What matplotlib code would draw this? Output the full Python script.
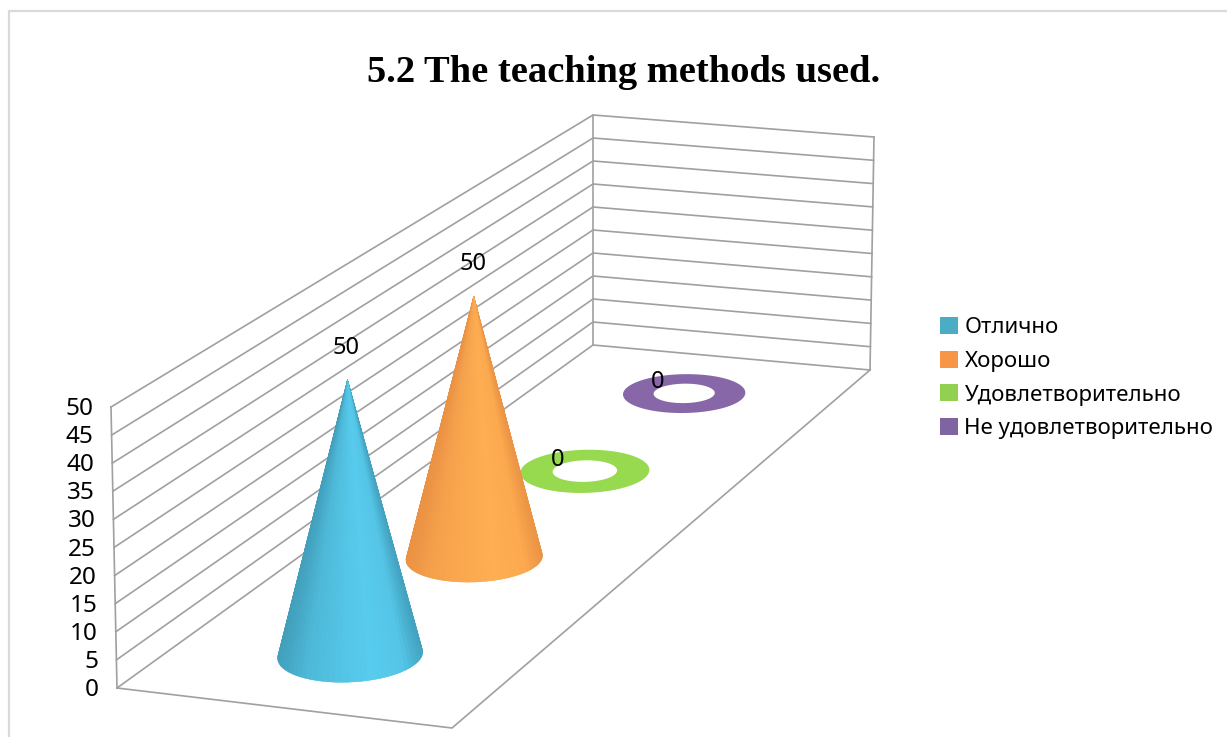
import numpy as np
import matplotlib
matplotlib.use('Agg')
import matplotlib.pyplot as plt
from matplotlib.patches import Polygon, Patch, PathPatch
from matplotlib.path import Path
from matplotlib.colors import to_rgb

# --- data ---
TITLE = '5.2 The teaching methods used.'
CATEGORIES = ['Отлично', 'Хорошо', 'Удовлетворительно', 'Не удовлетворительно']
VALUES = [50, 50, 0, 0]
Y_TICKS = [0, 5, 10, 15, 20, 25, 30, 35, 40, 45, 50]
LEGEND_COLORS = ['#4BACC6', '#F79646', '#92D050', '#8064A2']

# --- look of the fake 3d box (pixels of the 1227x737 picture) ---
Z_MAX = 50
FLOOR = [(117, 688), (593, 345), (870, 370), (452, 728)]   # front-left, back-left, back-right, front-right
TOP = [(111, 407), (593, 115), (874, 137), (451, 445)]
GRID = '#A0A0A0'
DARK = ['#3F9AB6', '#E88E42']
LIGHT = ['#58CCEE', '#FFAE52']
FLAT = ['#58CCEE', '#FFAE52', '#97D94F', '#8767A8']
R_DEPTH = 0.062
R_WIDTH = 0.205
SKEW = 0.004


def homography(pts):
    # unit square (u = depth, v = width) -> pixels
    src = [(0, 0), (1, 0), (1, 1), (0, 1)]
    A, b = [], []
    for (u, v), (x, y) in zip(src, pts):
        A.append([u, v, 1, 0, 0, 0, -u * x, -v * x])
        A.append([0, 0, 0, u, v, 1, -u * y, -v * y])
        b += [x, y]
    return np.append(np.linalg.solve(np.array(A, float), np.array(b, float)), 1).reshape(3, 3)


H_FLOOR = homography(FLOOR)
H_TOP = homography(TOP)


def project(u, v, z=0):
    u, v = np.asarray(u, float), np.asarray(v, float)
    p = np.stack([u, v, np.ones_like(u)])
    f = H_FLOOR @ p
    t = H_TOP @ p
    f = f[:2] / f[2]
    t = t[:2] / t[2]
    return f + (t - f) * z / Z_MAX


def ring(uc, factor=1.0, n=180):
    th = np.linspace(0, 2 * np.pi, n + 1)
    u = uc + factor * (R_DEPTH * np.sin(th) - SKEW * np.cos(th))
    v = 0.5 + factor * R_WIDTH * np.cos(th)
    x, y = project(u, v)
    return np.column_stack([x, y])


def draw_cone(ax, uc, value, dark, light):
    base = ring(uc, n=72)
    apex = project(uc, 0.5, value)
    cx = (base[:, 0].min() + base[:, 0].max()) / 2
    rx = (base[:, 0].max() - base[:, 0].min()) / 2
    z = 4 + (1 - uc)
    ax.add_patch(Polygon(base, fc=light, ec='none', zorder=z))
    facets = sorted(range(len(base) - 1), key=lambda i: base[i, 1] + base[i + 1, 1])
    d, l = np.array(to_rgb(dark)), np.array(to_rgb(light))
    for i in facets:
        s = ((base[i, 0] + base[i + 1, 0]) / 2 - cx) / rx
        k = np.interp(s, [-1, -0.6, -0.1, 0.3, 0.75, 1], [0.1, 0.6, 0.85, 1, 0.85, 0.15])
        col = d + (l - d) * k
        ax.add_patch(Polygon([apex, base[i], base[i + 1]], fc=col, ec=col, lw=0.3, zorder=z))
    return apex


def draw_donut(ax, uc, color):
    outer = ring(uc)
    inner = ring(uc, factor=0.5)[::-1]
    verts = np.vstack([outer, inner])
    codes = [Path.MOVETO] + [Path.LINETO] * (len(outer) - 1) + [Path.MOVETO] + [Path.LINETO] * (len(inner) - 1)
    ax.add_patch(PathPatch(Path(verts, codes), fc=color, ec='none', zorder=3))


fig = plt.figure(figsize=(12.27, 7.37), dpi=100)
ax = fig.add_axes([0, 0, 1, 1])
ax.set_xlim(0, 1227)
ax.set_ylim(737, 0)
ax.axis('off')

# chart area border
ax.plot([1227, 9, 9], [11, 11, 737], color='#D9D9D9', lw=1.6, zorder=1)

ax.text(624, 72, TITLE, family='Liberation Serif', fontweight='bold', fontsize=27.7,
        ha='center', va='center', color='black')

# walls and floor
for z in Y_TICKS:
    pts = [project(0, 0, z), project(1, 0, z), project(1, 1, z)]
    ax.plot([p[0] for p in pts], [p[1] for p in pts], color=GRID, lw=1.2, zorder=2)
    p0 = project(0, 0, z)
    ax.text(p0[0] - 18, p0[1] + 2, str(z), family='Noto Sans', fontsize=17.5, ha='right', va='center', color='black')
for u, v in [(0, 0), (1, 0), (1, 1)]:
    a, b = project(u, v, 0), project(u, v, Z_MAX)
    ax.plot([a[0], b[0]], [a[1], b[1]], color=GRID, lw=1.2, zorder=2)
edge = [project(1, 1, 0), project(0, 1, 0), project(0, 0, 0)]
ax.plot([p[0] for p in edge], [p[1] for p in edge], color=GRID, lw=1.2, zorder=2)

# back to front
for i in reversed(range(len(VALUES))):
    uc = (i + 0.5) / len(VALUES)
    if VALUES[i] > 0:
        apex = draw_cone(ax, uc, VALUES[i], DARK[i], LIGHT[i])
        ax.text(apex[0] - 1, apex[1] - 32, str(VALUES[i]), family='Noto Sans', fontsize=17,
                ha='center', va='center', color='black', zorder=10)
    else:
        draw_donut(ax, uc, FLAT[i])
        c = project(uc, 0.5, 0)
        ax.text(c[0] - 27, c[1] - 11, str(VALUES[i]), family='Noto Sans', fontsize=17,
                ha='center', va='center', color='black', zorder=10)

handles = [Patch(fc=c, ec='none', label=n) for c, n in zip(LEGEND_COLORS, CATEGORIES)]
leg = ax.legend(handles=handles, loc='upper left', bbox_to_anchor=(940 / 1227, 1 - 317 / 737),
                frameon=False, prop={'family': 'Noto Sans', 'size': 16}, handlelength=0.8, handleheight=0.8,
                handletextpad=0.3, labelspacing=0.56, borderaxespad=0, borderpad=0)

fig.savefig('out.png', dpi=100)
